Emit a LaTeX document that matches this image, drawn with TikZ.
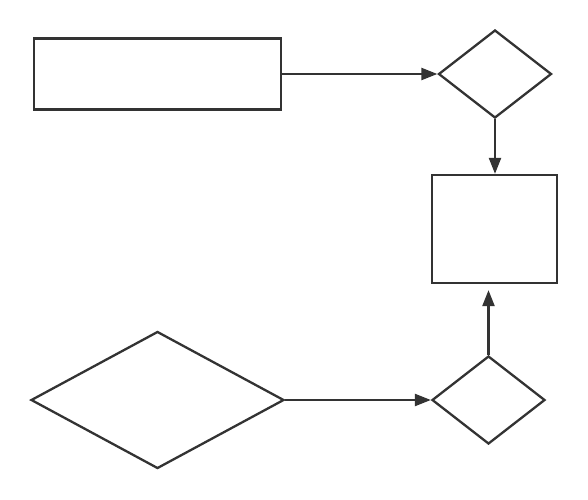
\documentclass[tikz,border=0pt]{standalone}
\usepackage{xcolor}
\definecolor{cLine}{RGB}{51,51,51}
\usetikzlibrary{shapes.geometric, arrows.meta, positioning, calc}

\begin{document}
\begin{tikzpicture}[x=1pt, y=-1pt, line width=2.3pt, cLine,
    ar/.style={-{Triangle[length=16pt,width=12pt]}},
    box/.style={draw, rectangle, inner sep=0pt},
    dia/.style={draw, diamond, inner sep=0pt}]
    \useasboundingbox (0,0) rectangle (588,499);

    % ---------- top row ----------
    \node[box, minimum width=247pt, minimum height=71pt] (rA) at (157.5,74) {};
    \node[dia, minimum width=113pt, minimum height=88pt] (dA) at (495,74) {};

    % ---------- right box ----------
    \node[box, minimum width=125pt, minimum height=108pt] (rB) at (494.5,229) {};

    % ---------- bottom row ----------
    \node[dia, minimum width=253pt, minimum height=137pt] (dB) at (157.5,400) {};
    \node[dia, minimum width=113pt, minimum height=88pt] (dC) at (488.5,400) {};

    % ---------- connectors ----------
    \draw[ar] (rA.east) -- (dA.west);
    \draw[ar] (dA.south) -- (dA.south |- rB.north);
    \draw[ar] (dB.east) -- (dC.west);
    \draw[ar, shorten >=6pt] (dC.north) -- (dC.north |- rB.south);

\end{tikzpicture}
\end{document}
